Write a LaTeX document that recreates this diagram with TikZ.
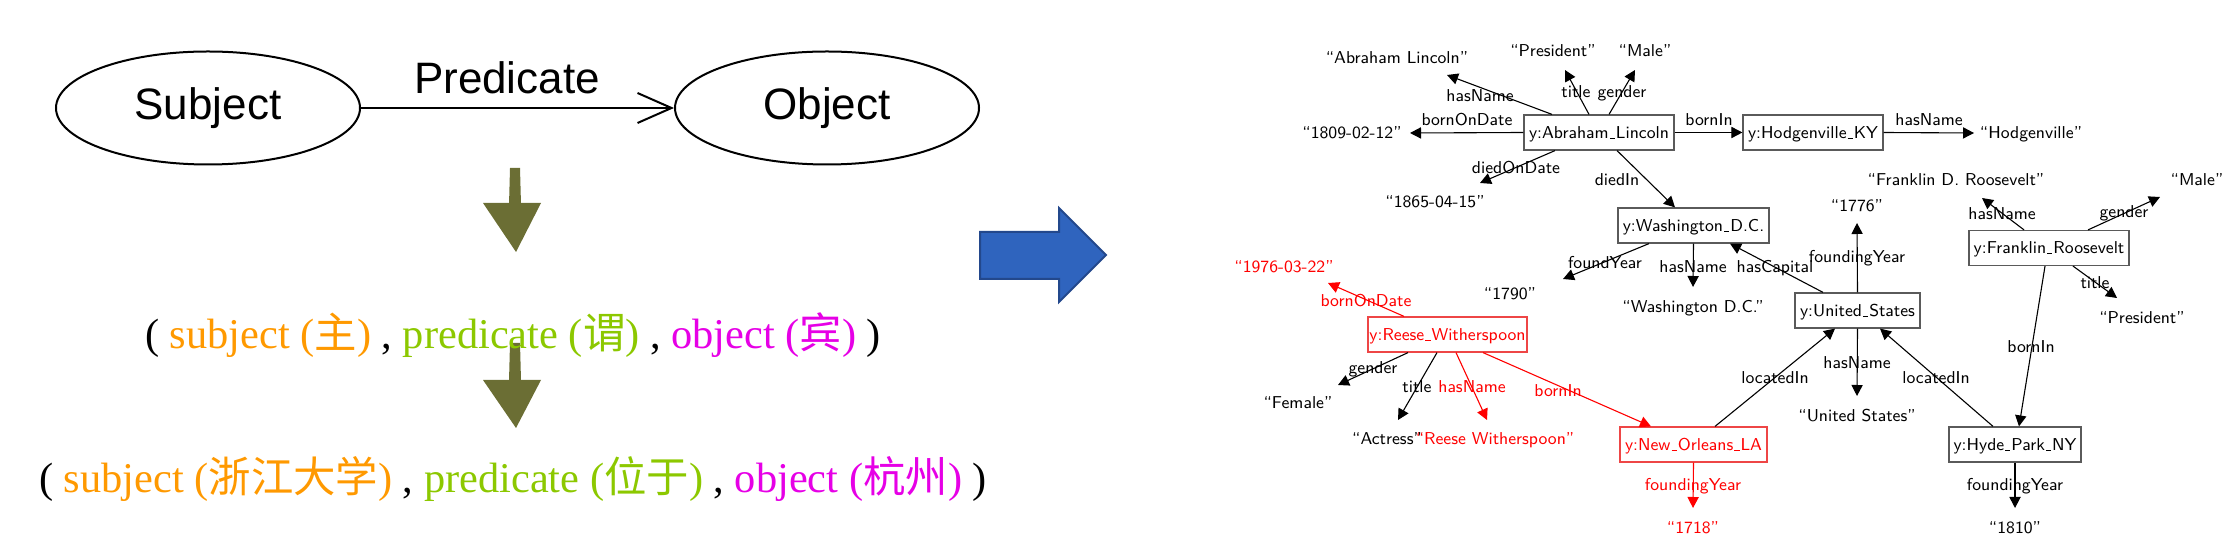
\documentclass[tikz,border=0pt]{standalone}
\usepackage{fontspec}
\setmainfont{Liberation Serif}
\newfontfamily\arialfont{Liberation Sans}
\newfontfamily\cjk{Noto Sans CJK SC}
\usetikzlibrary{arrows.meta,shapes.geometric,calc}
\newcommand\usc{\leavevmode\kern.06em\vbox{\hrule width.3em height .45pt}\kern.06em}
\definecolor{oliveA}{RGB}{107,110,52}
\definecolor{sOrange}{RGB}{255,153,0}
\definecolor{sGreen}{RGB}{140,200,0}
\definecolor{sMag}{RGB}{230,0,230}
\definecolor{bArrow}{RGB}{47,100,190}
\definecolor{bArrowD}{RGB}{35,72,140}
\definecolor{kgRed}{RGB}{255,0,0}
\definecolor{kgRedBox}{RGB}{238,70,70}
\definecolor{boxgray}{RGB}{90,90,90}
\tikzset{
  ell/.style={draw, ellipse, line width=1pt, minimum width=152pt, minimum height=56.5pt, inner sep=0pt, font=\arialfont\fontsize{22pt}{26pt}\selectfont},
  bigtxt/.style={font=\arialfont\fontsize{22pt}{26pt}\selectfont, inner sep=0pt},
  serifline/.style={anchor=base, inner sep=0pt, font=\fontsize{21.2pt}{25pt}\selectfont},
  kbox/.style={draw=boxgray, line width=0.6pt, minimum height=17.5pt, inner xsep=0pt, text height=6pt, text depth=0pt, font=\sffamily\fontsize{8.6pt}{10pt}\selectfont},
  rbox/.style={kbox, draw=kgRedBox, text=kgRed},
  lit/.style={inner sep=0pt, text height=6pt, text depth=0pt, font=\sffamily\fontsize{8.6pt}{10pt}\selectfont},
  rlit/.style={lit, text=kgRed},
  arr/.style={line width=0.55pt, -{Triangle[length=5.5pt,width=5.6pt]}},
  rarr/.style={arr, color=kgRed},
}
\begin{document}
\begin{tikzpicture}[x=0.5pt,y=-0.5pt]
\useasboundingbox (0,0) rectangle (2226,544);
% ---------------- left part ----------------
\node[ell] (subj) at (208,108) {Subject};
\node[ell] (obj) at (827,108) {Object};
\draw[line width=1pt, -{Straight Barb[length=17pt,width=15pt]}] (subj.east) -- (obj.west);
\node[bigtxt, anchor=base] (pred) at (507,94) {Predicate};
% olive arrows
\fill[oliveA] (510,168) -- (520,168) -- (521,205) -- (509,205) -- cycle;
\fill[oliveA] (483,203) -- (541,203) -- (516,252) -- cycle;
\fill[oliveA] (510,343) -- (520,343) -- (521,381) -- (509,381) -- cycle;
\fill[oliveA] (483,380) -- (541,380) -- (516,428) -- cycle;
% triples
\node[serifline] (t1) at (513,349) {( \textcolor{sOrange}{subject ({\cjk 主})} , \textcolor{sGreen}{predicate ({\cjk 谓})} , \textcolor{sMag}{object ({\cjk 宾})} )};
\node[serifline] (t2) at (513,493) {( \textcolor{sOrange}{subject ({\cjk 浙江大学})} , \textcolor{sGreen}{predicate ({\cjk 位于})} , \textcolor{sMag}{object ({\cjk 杭州})} )};
% blue arrow
\draw[fill=bArrow, draw=bArrowD, line width=1pt, line join=miter] (980,232) -- (1059,232) -- (1059,208) -- (1106,255) -- (1059,302) -- (1059,279) -- (980,279) -- cycle;
% ---------------- right part: boxes ----------------
\node[kbox, minimum width=75pt] (lin) at (1599,132.5) {y:Abraham\usc Lincoln};
\node[kbox, minimum width=70pt] (hod) at (1813,132.5) {y:Hodgenville\usc KY};
\node[kbox, minimum width=75.5pt] (wash) at (1693.5,225.5) {y:Washington\usc D.C.};
\node[kbox, minimum width=80pt] (fdr) at (2049,248) {y:Franklin\usc Roosevelt};
\node[kbox, minimum width=62.5pt] (us) at (1857.5,310.5) {y:United\usc States};
\node[rbox, minimum width=79.5pt] (reese) at (1447.5,334.5) {y:Reese\usc Witherspoon};
\node[rbox, minimum width=73.5pt] (nola) at (1693.5,444.5) {y:New\usc Orleans\usc LA};
\node[kbox, minimum width=66pt] (hyde) at (2015,444.5) {y:Hyde\usc Park\usc NY};
% literals
\node[lit] (abeName) at (1397,58) {“Abraham Lincoln”};
\node[lit] (abeTitle) at (1553,51) {“President”};
\node[lit] (abeGender) at (1645,51) {“Male”};
\node[lit] (abeBorn) at (1352,133) {“1809-02-12”};
\node[lit] (abeDied) at (1435,202) {“1865-04-15”};
\node[lit] (hodName) at (2031,133) {“Hodgenville”};
\node[lit] (fdrName) at (1956,180) {“Franklin D. Roosevelt”};
\node[lit] (fdrGender) at (2197,180) {“Male”};
\node[lit] (usFound) at (1857,206) {“1776”};
\node[lit] (washFound) at (1510,294) {“1790”};
\node[lit] (washName) at (1693,307) {“Washington D.C.”};
\node[lit] (fdrTitle) at (2142,318) {“President”};
\node[rlit] (reeseBorn) at (1284,267) {“1976-03-22”};
\node[lit] (reeseGender) at (1298,403) {“Female”};
\node[lit] (usName) at (1857,416) {“United States”};
\node[lit] (reeseTitle) at (1387,439) {“Actress”};
\node[rlit] (reeseName) at (1495,439) {“Reese Witherspoon”};
\node[lit] (hydeFound) at (2015,527) {“1810”};
\node[rlit] (noFound) at (1693,527) {“1718”};
% edge labels
\node[lit] (l1) at (1467,120) {bornOnDate};
\node[lit] (l2) at (1480,96) {hasName};
\node[lit] (l3) at (1576,92) {title};
\node[lit] (l4) at (1622,92) {gender};
\node[lit] (l5) at (1709,120) {bornIn};
\node[lit] (l6) at (1516,168) {diedOnDate};
\node[lit] (l7) at (1617,180) {diedIn};
\node[lit] (l8) at (1929,120) {hasName};
\node[lit] (l9) at (2002,214) {hasName};
\node[lit] (l10) at (2124,212) {gender};
\node[lit] (l11) at (1857,257) {foundingYear};
\node[lit] (l12) at (1775,267) {hasCapital};
\node[lit] (l13) at (2095,283) {title};
\node[lit] (l14) at (2031,347) {bornIn};
\node[lit] (l15) at (1936,378) {locatedIn};
\node[lit] (l16) at (1857,363) {hasName};
\node[lit] (l17) at (1775,378) {locatedIn};
\node[lit] (l18) at (2015,485) {foundingYear};
\node[lit] (l19) at (1605,263) {foundYear};
\node[lit] (l20) at (1693,267) {hasName};
\node[rlit] (l21) at (1366,301) {bornOnDate};
\node[lit] (l22) at (1373,368) {gender};
\node[lit] (l23) at (1417,387) {title};
\node[rlit] (l24) at (1472,387) {hasName};
\node[rlit] (l25) at (1558,391) {bornIn};
\node[rlit] (l26) at (1693,485) {foundingYear};
% edges
\draw[arr] ($(lin.north)+(-47,0)$) -- ($(abeName)+(50,17)$);
\draw[arr] ($(lin.north)+(-10,0)$) -- ($(abeTitle)+(12,19)$);
\draw[arr] ($(lin.north)+(10,0)$) -- ($(abeGender)+(-10,19)$);
\draw[arr] (lin.west) -- ($(abeBorn)+(58,0)$);
\draw[arr] ($(lin.south)+(-44,0)$) -- ($(abeDied)+(45,-19)$);
\draw[arr] ($(lin.south)+(18,0)$) -- ($(wash.north)+(-18.5,0)$);
\draw[arr] (lin.east) -- (hod.west);
\draw[arr] (hod.east) -- ($(hodName)+(-57,0)$);
\draw[arr] ($(wash.south)+(-44.5,0)$) -- ($(washFound)+(53,-15)$);
\draw[arr] (wash.south) -- ($(washName)+(0,-20)$);
\draw[arr] ($(us.north)+(-34.5,0)$) -- ($(wash.south)+(36.5,0)$);
\draw[arr] (us.north) -- ($(usFound)+(0,17)$);
\draw[arr] (us.south) -- ($(usName)+(0,-20)$);
\draw[arr] ($(fdr.north)+(-25,0)$) -- ($(fdrName)+(26,18)$);
\draw[arr] ($(fdr.north)+(39,0)$) -- ($(fdrGender)+(-37,17)$);
\draw[arr] ($(fdr.south)+(24,0)$) -- ($(fdrTitle)+(-25,-20)$);
\draw[arr] ($(fdr.south)+(-4,0)$) -- ($(hyde.north)+(4,0)$);
\draw[arr] ($(hyde.north)+(-22,0)$) -- ($(us.south)+(22.5,0)$);
\draw[arr] ($(nola.north)+(21.5,0)$) -- ($(us.south)+(-22.5,0)$);
\draw[arr] (hyde.south) -- ($(hydeFound)+(0,-19)$);
\draw[rarr] (nola.south) -- ($(noFound)+(0,-19)$);
\draw[rarr] ($(reese.north)+(-43.5,0)$) -- ($(reeseBorn)+(44,16)$);
\draw[arr] ($(reese.south)+(-39.5,0)$) -- ($(reeseGender)+(40,-18)$);
\draw[arr] ($(reese.south)+(-10.5,0)$) -- ($(reeseTitle)+(11,-19)$);
\draw[rarr] ($(reese.south)+(8.5,0)$) -- ($(reeseName)+(-8,-19)$);
\draw[rarr] ($(reese.south)+(35.5,0)$) -- ($(nola.north)+(-42.5,0)$);
\end{tikzpicture}
\end{document}
